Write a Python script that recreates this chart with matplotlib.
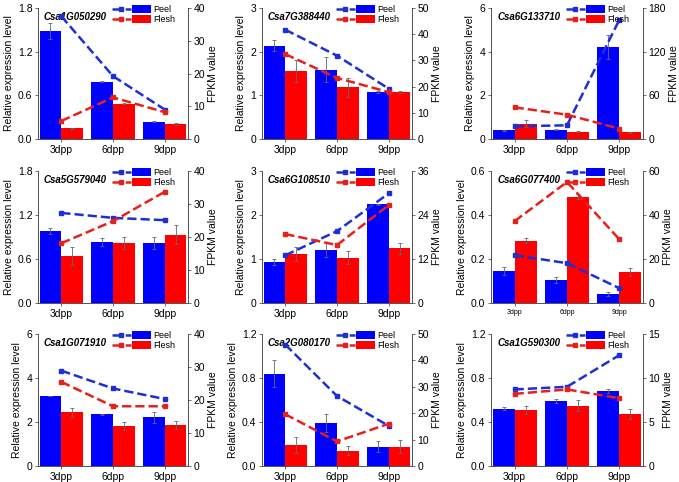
import numpy as np
import matplotlib
matplotlib.use("Agg")
import matplotlib.pyplot as plt
from matplotlib.lines import Line2D
from matplotlib.patches import Patch
from matplotlib.legend_handler import HandlerTuple

plt.rcParams['font.family'] = ['Liberation Sans', 'DejaVu Sans']

# stages and genes
stages = ['3dpp', '6dpp', '9dpp']
genes = ['Csa1G050290', 'Csa7G388440', 'Csa6G133710',
         'Csa5G579040', 'Csa6G108510', 'Csa6G077400',
         'Csa1G071910', 'Csa2G080170', 'Csa1G590300']

# relative expression (qRT-PCR), bars
peel = [[1.49, 0.79, 0.24], [2.14, 1.59, 1.08], [0.40, 0.43, 4.21],
        [0.98, 0.83, 0.82], [0.93, 1.21, 2.24], [0.144, 0.106, 0.040],
        [3.18, 2.35, 2.21], [0.84, 0.39, 0.176], [0.52, 0.59, 0.68]]
peel_err = [[0.11, 0.01, 0.01], [0.12, 0.29, 0.03], [0.02, 0.02, 0.55],
            [0.04, 0.05, 0.08], [0.06, 0.17, 0.02], [0.018, 0.014, 0.009],
            [0.02, 0.01, 0.25], [0.12, 0.08, 0.05], [0.015, 0.02, 0.02]]
flesh = [[0.147, 0.485, 0.206], [1.55, 1.18, 1.08], [0.70, 0.34, 0.31],
         [0.64, 0.82, 0.93], [1.12, 1.03, 1.24], [0.284, 0.483, 0.140],
         [2.45, 1.82, 1.86], [0.19, 0.14, 0.176], [0.51, 0.55, 0.476]]
flesh_err = [[0.01, 0.005, 0.01], [0.25, 0.22, 0.02], [0.15, 0.03, 0.03],
             [0.12, 0.08, 0.13], [0.16, 0.15, 0.12], [0.012, 0.012, 0.018],
             [0.20, 0.20, 0.17], [0.07, 0.04, 0.06], [0.035, 0.05, 0.045]]

# FPKM (RNA-seq), dashed lines
fpkm_peel = [[37.5, 19.2, 9.0], [41.7, 31.8, 19.2], [17.4, 18.8, 164],
             [27.3, 25.8, 25.1], [13.0, 19.6, 29.9], [21.7, 18.1, 6.7],
             [28.9, 23.5, 20.3], [46, 26.5, 15.2], [8.7, 9.0, 12.6]]
fpkm_flesh = [[5.5, 12.7, 8.2], [32.4, 23.3, 17.9], [43.5, 33.4, 14.2],
              [18.1, 24.8, 33.7], [18.8, 15.8, 26.7], [37.2, 55, 28.9],
              [25.5, 18.1, 18.1], [19.6, 9.3, 16.0], [8.2, 8.7, 7.7]]

# axis ranges
left_max = [1.8, 3, 6, 1.8, 3, 0.6, 6, 1.2, 1.2]
left_step = [0.6, 1, 2, 0.6, 1, 0.2, 2, 0.4, 0.4]
right_max = [40, 50, 180, 40, 36, 60, 40, 50, 15]
right_step = [10, 10, 60, 10, 12, 20, 10, 10, 5]

# axes boxes in pixels: left, top, right, bottom
col_lr = [(38, 188), (262, 412), (491, 643)]
row_tb = [(8, 139), (171, 303), (334, 466)]

W, H = 679, 482
fig = plt.figure(figsize=(W / 100, H / 100), dpi=100)

blue = '#0000ff'
red = '#ff0000'
lblue = '#1f2fd6'
lred = '#e8201c'
spine = '#555555'
x = np.arange(3)
bw = 0.42

for i in range(9):
    l, r = col_lr[i % 3]
    t, b = row_tb[i // 3]
    ax = fig.add_axes([l / W, 1 - b / H, (r - l) / W, (b - t) / H])
    ax.bar(x - bw / 2, peel[i], bw, color=blue, yerr=peel_err[i],
           error_kw=dict(ecolor='#666666', elinewidth=0.6, capsize=1.5, capthick=0.6))
    ax.bar(x + bw / 2, flesh[i], bw, color=red, yerr=flesh_err[i],
           error_kw=dict(ecolor='#666666', elinewidth=0.6, capsize=1.5, capthick=0.6))
    ax.set_xlim(-0.45, 2.45)
    ax.set_ylim(0, left_max[i])
    yt = np.arange(0, left_max[i] + 1e-9, left_step[i])
    ax.set_yticks(yt)
    if left_step[i] < 1:
        ax.set_yticklabels(['%.1f' % v for v in yt])
    ax.set_xticks(x)
    ax.set_xticklabels(stages, fontsize=5 if i == 5 else 7.5)
    ax.tick_params(axis='y', labelsize=7.5, length=2.5, width=0.6, color=spine, pad=1.5)
    ax.tick_params(axis='x', length=2, width=0.6, color=spine, pad=2)
    ax.set_ylabel('Relative expression level', fontsize=7.5, labelpad=3)
    ax.spines['top'].set_visible(False)
    for s in ['left', 'right', 'bottom']:
        ax.spines[s].set_color(spine)
        ax.spines[s].set_linewidth(0.7)
    ax.text(0.04, 0.97, genes[i], transform=ax.transAxes, fontsize=7,
            fontweight='bold', fontstyle='italic', va='top', ha='left')

    ax2 = ax.twinx()
    ax2.plot(x, fpkm_peel[i], ls='--', color=lblue, lw=1.8, marker='s', ms=3)
    ax2.plot(x, fpkm_flesh[i], ls='--', color=lred, lw=1.8, marker='s', ms=3)
    ax2.set_ylim(0, right_max[i])
    ax2.set_yticks(np.arange(0, right_max[i] + 1e-9, right_step[i]))
    ax2.tick_params(axis='y', labelsize=7.5, length=2.5, width=0.6, color=spine, pad=1.5)
    ax2.set_ylabel('FPKM value', fontsize=7.5, labelpad=2)
    ax2.spines['top'].set_visible(False)
    for s in ['left', 'right', 'bottom']:
        ax2.spines[s].set_color(spine)
        ax2.spines[s].set_linewidth(0.7)

    handles = [(Line2D([], [], ls='--', color=lblue, lw=1.8, marker='s', ms=3,
                       markevery=[1]), Patch(fc=blue)),
               (Line2D([], [], ls='--', color=lred, lw=1.8, marker='s', ms=3,
                       markevery=[1]), Patch(fc=red))]
    ax2.legend(handles, ['Peel', 'Flesh'], loc='upper left',
               bbox_to_anchor=(0.45, 1.07), frameon=False, fontsize=6.5,
               handlelength=4.3, handleheight=1.0, labelspacing=0.1,
               handletextpad=0.3, borderpad=0.2,
               handler_map={tuple: HandlerTuple(ndivide=None, pad=0.1)})

fig.savefig('out.png', dpi=100)
